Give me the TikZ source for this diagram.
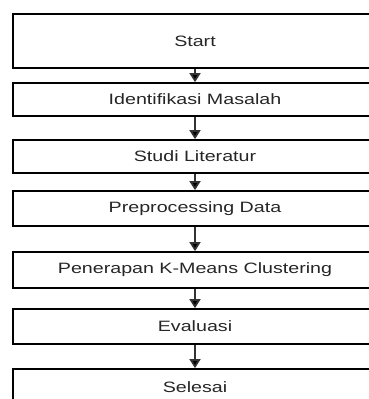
\documentclass[tikz,border=0pt]{standalone}
\usepackage{fontspec}
\setmainfont{Liberation Sans}
\usetikzlibrary{arrows.meta}
\definecolor{txt}{HTML}{262626}
\definecolor{lin}{HTML}{333333}
\begin{document}
\begin{tikzpicture}[x=1pt,y=1pt,
  stepbox/.style={draw=black, line width=1.7pt, fill=white, minimum width=364pt, inner sep=0pt,
    font=\fontsize{15}{17}\selectfont, text=txt},
  flow/.style={draw=lin, line width=1.7pt, -{Triangle[width=11pt,length=9pt,fill=black]}}]
\useasboundingbox (0,0) rectangle (369,399);
\clip (0,0) rectangle (369,399);
% y coordinates are 399 - pixel
\node[stepbox, minimum height=54pt] (s1) at (195,{399-41}) {\scalebox{1.31}[1]{Start}};
\node[stepbox, minimum height=33pt] (s2) at (195,{399-99.5}) {\scalebox{1.31}[1]{Identifikasi Masalah}};
\node[stepbox, minimum height=33pt] (s3) at (195,{399-156.5}) {\scalebox{1.31}[1]{Studi Literatur}};
\node[stepbox, minimum height=35pt] (s4) at (195,{399-208.5}) {\scalebox{1.31}[1]{Preprocessing Data}};
\node[stepbox, minimum height=36pt] (s5) at (195,{399-270}) {\scalebox{1.31}[1]{Penerapan K-Means Clustering}};
\node[stepbox, minimum height=35pt] (s6) at (195,{399-326.5}) {\scalebox{1.31}[1]{Evaluasi}};
\node[stepbox, minimum height=36pt] (s7) at (195,{399-387}) {\scalebox{1.31}[1]{Selesai}};
\draw[flow] (s1) -- (s2);
\draw[flow] (s2) -- (s3);
\draw[flow] (s3) -- (s4);
\draw[flow] (s4) -- (s5);
\draw[flow] (s5) -- (s6);
\draw[flow] (s6) -- (s7);
\end{tikzpicture}
\end{document}
